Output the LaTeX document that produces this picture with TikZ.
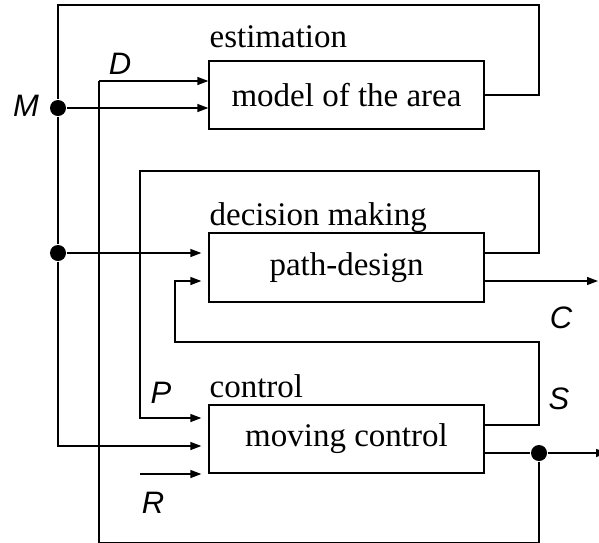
\documentclass[tikz,border=0pt]{standalone}
\usepackage{fontspec}
\setmainfont{Liberation Serif}
\newfontfamily\labfont{Liberation Sans}
\usetikzlibrary{arrows.meta}
\begin{document}
\begin{tikzpicture}[x=1pt,y=-1pt,
  line width=1.3pt,
  blk/.style={draw, minimum width=275pt, minimum height=68pt, inner sep=0pt, font=\fontsize{33}{36}\selectfont},
  ttl/.style={anchor=base west, inner sep=0pt, font=\fontsize{33}{36}\selectfont},
  var/.style={inner sep=0pt, font=\labfont\itshape\fontsize{31}{34}\selectfont},
  arr/.style={-{Triangle[length=11pt,width=8pt]}},
  gap/.style={shorten >=7pt},
  jdot/.style={circle, fill, inner sep=0pt, minimum size=16pt}]
\clip (0,0) rectangle (599,542);
\fill[white] (0,0) rectangle (599,542);
% blocks
\node[blk] (est) at (346.5,95) {model of the area};
\node[blk, minimum height=69pt] (path) at (346.5,267.5) {path-design};
\node[blk] (mov) at (346.5,439) {moving control};
\node[ttl] (testim) at (209,47) {estimation};
\node[ttl] (tdec) at (209,225) {decision making};
\node[ttl] (tctl) at (209,397) {control};
% variable labels
\node[var] (lM) at (26,106) {M};
\node[var] (lD) at (120,64) {D};
\node[var] (lC) at (561,318) {C};
\node[var] (lP) at (161,393) {P};
\node[var] (lS) at (559,399) {S};
\node[var] (lR) at (153,503) {R};
% junctions
\node[jdot] (dM) at (58,108) {};
\node[jdot] (dM2) at (58,253) {};
\node[jdot] (dOut) at (539,453) {};
% helper coordinates
\coordinate (mTop) at (58,5);
\coordinate (eTop) at (539,5);
\coordinate (eOut) at (539,95);
\coordinate (mBot) at (58,446);
\coordinate (dT) at (99,81);
\coordinate (dB) at (99,542.4);
\coordinate (oB) at (539,542.4);
\coordinate (pTop) at (140,171);
\coordinate (pTopR) at (539,171);
\coordinate (pOut) at (539,253);
\coordinate (pIn) at (140,418);
\coordinate (sR) at (539,425);
\coordinate (sTop) at (539,342);
\coordinate (sL) at (175,342);
\coordinate (sIn) at (175,281);
\coordinate (cEnd) at (598,281);
\coordinate (oEnd) at (607,453);
\coordinate (rStart) at (140,474);
% estimation loop and M
\draw (est.east |- eOut) -- (eOut) -- (eTop) -- (mTop) -- (dM);
\draw[arr] (dM) -- (est.west |- dM);
\draw[arr] (dT) -- (est.west |- dT);
\draw (dM) -- (dM2);
\draw[arr,gap] (dM2) -- (path.west |- dM2);
\draw[arr,gap] (dM2) -- (mBot) -- (mov.west |- mBot);
% decision loop -> P
\draw[arr,gap] (path.east |- pOut) -- (pOut) -- (pTopR) -- (pTop) -- (pIn) -- (mov.west |- pIn);
% S feedback
\draw[arr,gap] (mov.east |- sR) -- (sR) -- (sTop) -- (sL) -- (sIn) -- (path.west |- sIn);
% C output
\draw[arr] (path.east |- cEnd) -- (cEnd);
% control output
\draw (mov.east |- dOut) -- (dOut);
\draw[arr] (dOut) -- (oEnd);
\draw (dOut) -- (oB) -- (dB) -- (dT);
% R input
\draw[arr,gap] (rStart) -- (mov.west |- rStart);
\end{tikzpicture}
\end{document}
